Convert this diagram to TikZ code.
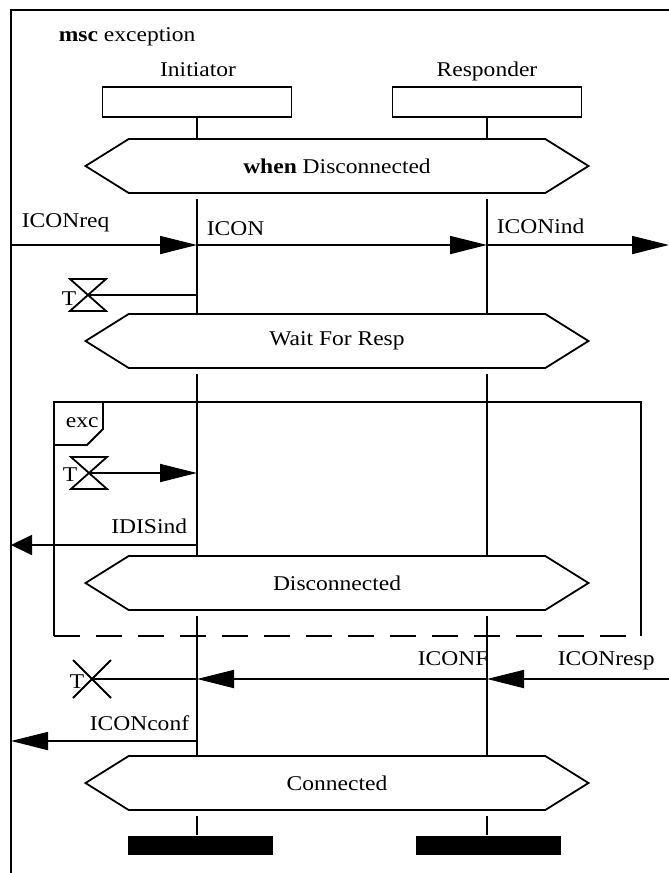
\documentclass[tikz,border=0pt]{standalone}
\usepackage{fontspec}
\setmainfont{Liberation Serif}[FakeStretch=1.12]
\usetikzlibrary{arrows.meta,shapes.symbols}

\begin{document}
\begin{tikzpicture}[
  x=1pt, y=-1pt,
  font=\fontsize{21}{25}\selectfont,
  line width=1.8pt,
  head/.style={draw, minimum width=189pt, minimum height=30pt, inner sep=0pt},
  cond/.style={draw, fill=white, signal, signal to=west and east, signal pointer angle=64,
    minimum width=503pt, minimum height=54pt, inner sep=0pt},
  endbar/.style={fill=black, minimum width=145pt, minimum height=19pt, inner sep=0pt},
  msg/.style={-{Triangle[length=37pt,width=18pt]}},
  lbl/.style={inner sep=0pt, anchor=base west},
  rlbl/.style={inner sep=0pt, anchor=base east}
]
\useasboundingbox (0,0) rectangle (669,873);

\draw (11,873) -- (11,10) -- (669,10);
\node[lbl] (title) at (58,41) {\textbf{msc} exception};

\node[anchor=base] (ini) at (198,76) {Initiator};
\node[anchor=base] (res) at (487,76) {Responder};
\node[head] (inihead) at (197,102) {};
\node[head] (reshead) at (487,102) {};

\node[cond] (cwhen) at (337,166) {\textbf{when} Disconnected};
\node[cond] (cwait) at (337,341) {Wait For Resp};
\node[cond] (cdisc) at (337,583) {Disconnected};
\node[cond] (cconn) at (337,783) {Connected};

\node[endbar] (iniend) at (200,845) {};
\node[endbar] (resend) at (488,845) {};

\foreach \i in {inihead,reshead} {
  \draw (\i.south) -- (\i |- cwhen.north);
  \draw ([yshift=-5pt]\i |- cwhen.south) -- (\i |- cwait.north);
  \draw ([yshift=-5pt]\i |- cwait.south) -- (\i |- cdisc.north);
  \draw ([yshift=-5pt]\i |- cdisc.south) -- (\i |- cconn.north);
  \draw ([yshift=-5pt]\i |- cconn.south) -- (\i |- iniend.north);
}

\coordinate (envin) at (11,245);
\coordinate (envout) at (669,245);
\draw[msg] (envin) -- (inihead |- envin);
\draw[msg] (inihead |- envin) -- (reshead |- envin);
\draw[msg] (reshead |- envin) -- (envout);
\node[lbl] (lreq) at (21,227) {ICONreq};
\node[lbl] (licon) at (206,235) {ICON};
\node[lbl] (lind) at (496,233) {ICONind};

\coordinate (tset1) at (88,295);
\draw (tset1) ++(-18,-16) -- ++(36,0) -- ++(-36,32) -- ++(36,0) -- cycle;
\draw (tset1) -- (inihead |- tset1);
\node[lbl] (t1) at (61,305) {T};

\draw (54,636) -- (54,402) -- (641,402) -- (641,636);
\draw[dash pattern=on 26pt off 16pt] (54,636) -- (641,636);
\draw (54,445) -- (87,445) -- (103,429) -- (103,402);
\node[lbl] (exc) at (65,427) {exc};

\coordinate (tset2) at (89,473);
\draw (tset2) ++(-18,-16) -- ++(36,0) -- ++(-36,32) -- ++(36,0) -- cycle;
\draw[msg] (tset2) -- (inihead |- tset2);
\node[lbl] (t2) at (62,481) {T};

\coordinate (envdis) at (11,545);
\draw[-{Triangle[length=21pt,width=20pt]}] (inihead |- envdis) -- (envdis);
\node[rlbl] (ldis) at (188,533) {IDISind};

\coordinate (tout) at (92,679);
\draw (tout) ++(-19,-19) -- ++(38,38) (tout) ++(19,-19) -- ++(-38,38);
\draw (tout) -- (inihead |- tout);
\node[lbl] (t3) at (69,688) {T};
\coordinate (envresp) at (669,679);
\draw[msg] (envresp) -- (reshead |- envresp);
\draw[msg] (reshead |- envresp) -- (inihead |- envresp);
\node[lbl] (lconf) at (417,665) {ICONF};
\node[lbl] (lresp) at (557,665) {ICONresp};

\coordinate (envconf) at (11,741);
\draw[msg] (inihead |- envconf) -- (envconf);
\node[rlbl] (lconfd) at (190,730) {ICONconf};
\end{tikzpicture}
\end{document}
